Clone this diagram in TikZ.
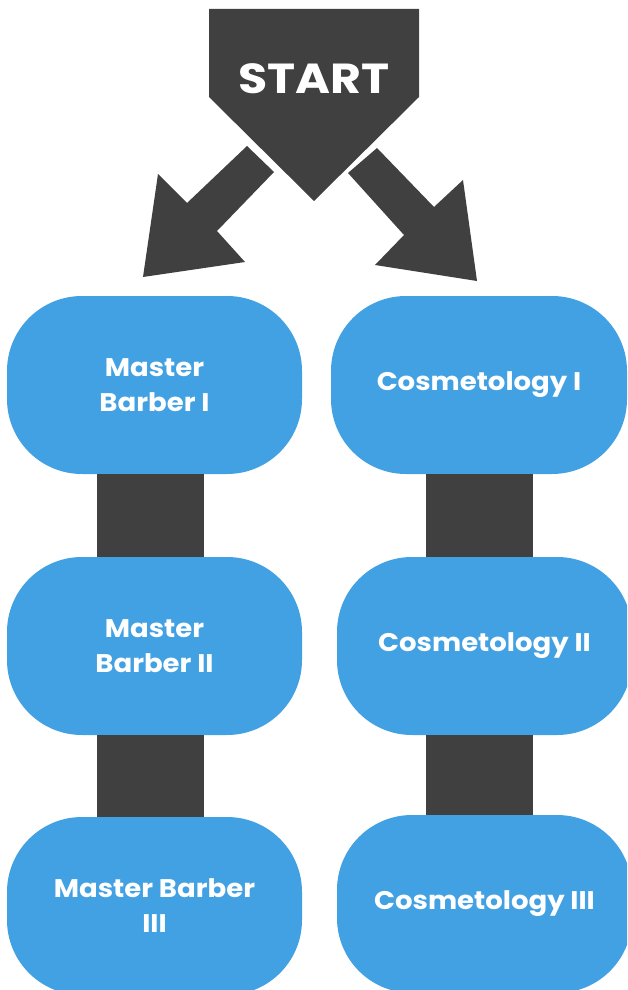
\documentclass[tikz,border=0pt]{standalone}
\usepackage{fontspec}
\setmainfont{Poppins}[FakeStretch=1.08]
\newfontfamily\startfont{Poppins}[FakeStretch=1.13]
\definecolor{boxblue}{RGB}{66,161,226}
\definecolor{darkgray}{RGB}{64,64,64}
\begin{document}
\begin{tikzpicture}[x=1pt,y=-1pt,
  stage/.style={shape=rectangle, fill=boxblue, rounded corners=75pt,
    minimum width=295pt, minimum height=178pt, inner sep=0pt,
    text=white, align=center, font=\bfseries\fontsize{25.5}{35}\selectfont},
  bar/.style={draw=darkgray, line width=107pt},
  darkshape/.style={fill=darkgray}]
\useasboundingbox (0,0) rectangle (627,990);
\clip (0,0) rectangle (627,990);
% start banner
\fill[darkshape] (209,9) -- (419,9) -- (419,97) -- (314,201) -- (209,97) -- cycle;
\node[text=white, font=\startfont\bfseries\fontsize{42}{42}\selectfont] (start) at (314,79) {START};
% branch arrows
\fill[darkshape] (247,146) -- (187,203) -- (158,174) -- (143,277) -- (245,262) -- (217,231) -- (274,172) -- cycle;
\fill[darkshape] (377,148) -- (434,207) -- (463,180) -- (477,281) -- (375,265) -- (404,235) -- (348,173) -- cycle;
% stages
\node[stage] (b1) at (154.5,385) {Master\\Barber I};
\node[stage] (b2) at (154.5,646) {Master\\Barber II};
\node[stage] (b3) at (154.5,906) {Master Barber\\III};
\node[stage, minimum width=296pt] (c1) at (479,385) {Cosmetology I};
\node[stage] (c2) at (484.5,646) {Cosmetology II};
\node[stage] (c3) at (484.5,904) {Cosmetology III};
% connectors
\draw[bar] ([xshift=-4pt]b1.south) -- ([xshift=-4pt]b2.north);
\draw[bar] ([xshift=-4pt]b2.south) -- ([xshift=-4pt]b3.north);
\draw[bar] (c1.south) -- (c1.south |- c2.north);
\draw[bar] (c1.south |- c2.south) -- (c1.south |- c3.north);
\end{tikzpicture}
\end{document}
